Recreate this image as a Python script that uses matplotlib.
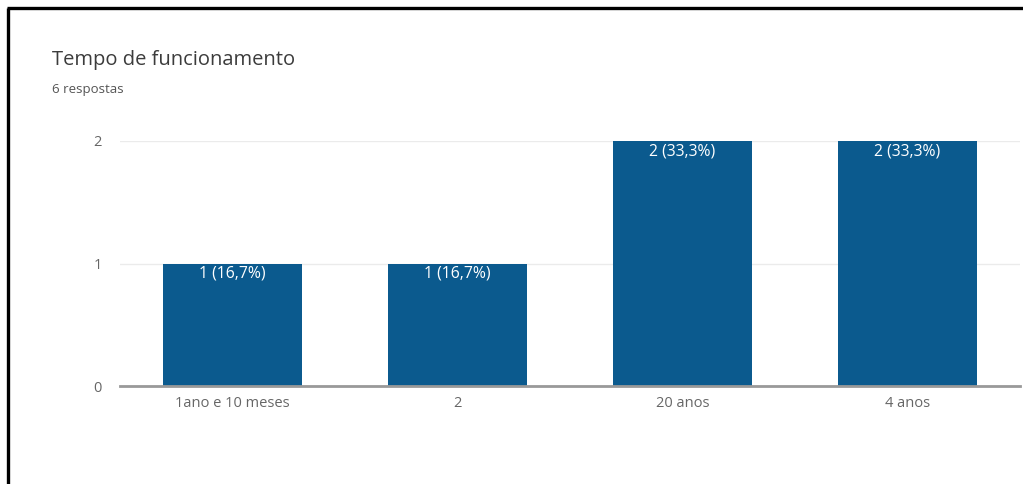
import matplotlib
matplotlib.use("Agg")
import matplotlib.pyplot as plt
from matplotlib.lines import Line2D

categories = ["1ano e 10 meses", "2", "20 anos", "4 anos"]
counts = [1, 1, 2, 2]
bar_labels = ["1 (16,7%)", "1 (16,7%)", "2 (33,3%)", "2 (33,3%)"]
yticks = [0, 1, 2]

plt.rcParams['font.family'] = ['Open Sans', 'DejaVu Sans']

W, H = 1023, 484
fig = plt.figure(figsize=(W / 100, H / 100), dpi=100)
fig.patch.set_facecolor('white')

# black frame (cropped screenshot border)
fig.add_artist(Line2D([8 / W, 8 / W], [0, 1 - 8 / H], transform=fig.transFigure,
                      color='black', lw=2.4, solid_capstyle='butt'))
fig.add_artist(Line2D([7 / W, 1], [1 - 8 / H, 1 - 8 / H], transform=fig.transFigure,
                      color='black', lw=2.4, solid_capstyle='butt'))

fig.text(52 / W, 1 - 60 / H, "Tempo de funcionamento", fontsize=14.5,
         color='#3c3c3c', va='center', ha='left')
fig.text(52 / W, 1 - 89 / H, "6 respostas", fontsize=9.5,
         color='#555555', va='center', ha='left')

ax = fig.add_axes([120 / W, 1 - 386 / H, 900 / W, 245 / H])
x = list(range(len(categories)))
bars = ax.bar(x, counts, width=0.62, color='#0b5a8e', zorder=3)
for b, lab in zip(bars, bar_labels):
    ax.text(b.get_x() + b.get_width() / 2, b.get_height() - 0.02, lab,
            ha='center', va='top', color='white', fontsize=11.3, zorder=4)

ax.set_xlim(-0.5, 3.5)
ax.set_ylim(0, 2)
ax.set_yticks(yticks)
ax.set_yticklabels([str(v) for v in yticks])
ax.set_xticks(x)
ax.set_xticklabels(categories)
ax.tick_params(axis='both', length=0, colors='#666666', labelsize=10.5)
ax.tick_params(axis='y', pad=13)
ax.tick_params(axis='x', pad=7)
for s in ['top', 'right', 'left']:
    ax.spines[s].set_visible(False)
ax.spines['bottom'].set_color('#999999')
ax.spines['bottom'].set_linewidth(2)
ax.spines['bottom'].set_zorder(5)
ax.yaxis.grid(True, color='#ebebeb', lw=1, zorder=0)
ax.set_axisbelow(True)

fig.savefig("out.png", dpi=100)
